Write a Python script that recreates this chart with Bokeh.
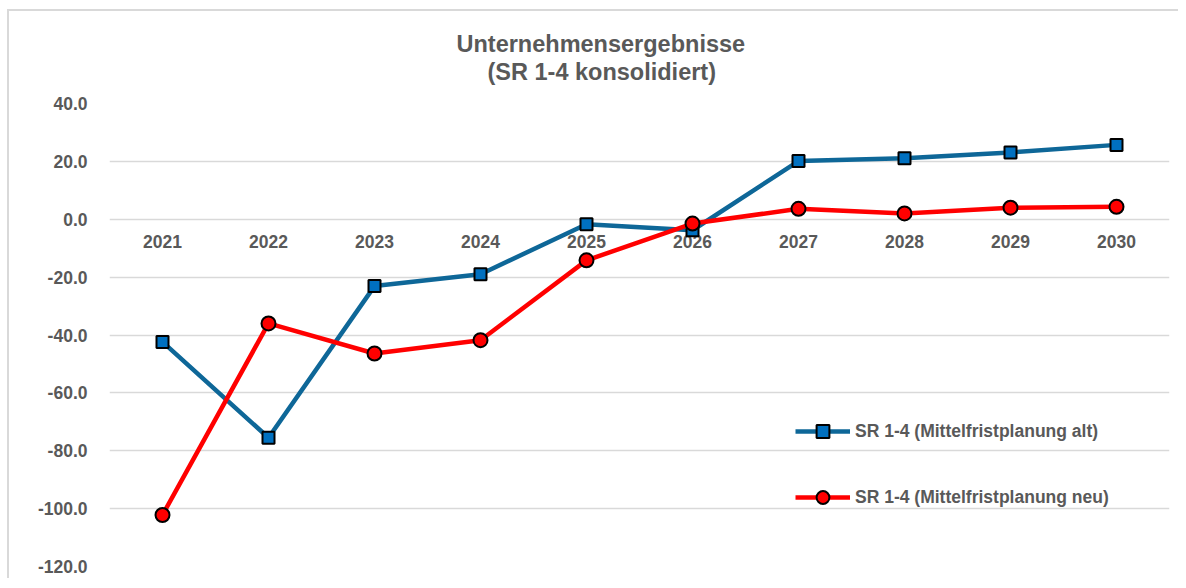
from bokeh.plotting import figure
from bokeh.models import (FactorRange, Range1d, FixedTicker, Legend, LegendItem,
                          CustomJSTickFormatter, Title)
from bokeh.core.properties import value
from bokeh.embed import file_html
from bokeh.resources import INLINE

years = ["2021", "2022", "2023", "2024", "2025", "2026", "2027", "2028", "2029", "2030"]
alt = [-42.4, -75.5, -23.1, -19.0, -1.7, -3.8, 20.1, 21.1, 23.1, 25.7]
neu = [-102.2, -36.0, -46.4, -41.8, -14.2, -1.5, 3.6, 2.0, 4.0, 4.3]
y_ticks = [-120, -100, -80, -60, -40, -20, 0, 20, 40]
label_alt = "SR 1-4 (Mittelfristplanung alt)"
label_neu = "SR 1-4 (Mittelfristplanung neu)"
title_1 = "Unternehmensergebnisse"
title_2 = "(SR 1-4 konsolidiert)"

FONT = "Liberation Sans"
GRAY = "#595959"
BLUE_LINE = "#0E6798"
BLUE_FILL = "#0070C0"
RED = "#FF0000"

p = figure(width=1178, height=578, output_backend="svg", toolbar_location=None,
           x_range=FactorRange(*years, range_padding=0),
           y_range=Range1d(-120, 40),
           min_border_left=109, min_border_right=9, min_border_top=103, min_border_bottom=12)
p.outline_line_color = None
p.border_fill_color = None
p.background_fill_color = "white"
# chart-area frame: left and top edges (the rest lies outside the picture)
p.styles = {
    "overflow": "hidden",
    "vertical-align": "top",
    "background-color": "white",
    "background-image": "linear-gradient(#D9D9D9, #D9D9D9), linear-gradient(#D9D9D9, #D9D9D9)",
    "background-size": "2px 100%, 100% 2px",
    "background-position": "7px 10px, 7px 9px",
    "background-repeat": "no-repeat",
}

tstyle = dict(align="left", text_font=FONT, text_font_size="23.5px",
              text_font_style="bold", text_color=GRAY)
p.title = Title(text=title_1, offset=347, standoff=0, **tstyle)
p.add_layout(Title(text=" ", standoff=16, text_font_size="1px", text_color=GRAY), "above")
p.add_layout(Title(text=title_2, offset=378, standoff=0, **tstyle), "above")

p.xaxis.visible = False
p.xgrid.visible = False
p.ygrid.grid_line_color = "#D9D9D9"
p.ygrid.grid_line_width = 1.5
p.yaxis.ticker = FixedTicker(ticks=y_ticks)
p.yaxis.formatter = CustomJSTickFormatter(code="return tick.toFixed(1);")
p.yaxis.axis_line_color = None
p.yaxis.major_tick_line_color = None
p.yaxis.minor_tick_line_color = None
p.yaxis.major_label_standoff = 16
p.yaxis.major_label_text_font = FONT
p.yaxis.major_label_text_font_size = "17.5px"
p.yaxis.major_label_text_font_style = "bold"
p.yaxis.major_label_text_color = GRAY

p.text(x=years, y=[0] * len(years), text=years, y_offset=22,
       text_font=value(FONT), text_font_size="17.5px", text_font_style="bold",
       text_color=GRAY, text_align="center", text_baseline="middle")

l1 = p.line(years, alt, line_color=BLUE_LINE, line_width=4.5)
s1 = p.scatter(years, alt, marker="square", size=12, fill_color=BLUE_FILL,
               line_color="black", line_width=2)
l2 = p.line(years, neu, line_color=RED, line_width=4.5)
s2 = p.scatter(years, neu, marker="circle", size=14, fill_color=RED,
               line_color="black", line_width=2)

legend = Legend(items=[LegendItem(label=label_alt, renderers=[l1, s1]),
                       LegendItem(label=label_neu, renderers=[l2, s2])],
                location=(686, 53), orientation="vertical",
                glyph_width=55, glyph_height=32, label_height=32, spacing=34,
                label_standoff=5, padding=0, margin=0,
                border_line_color=None, background_fill_alpha=0,
                label_text_font=FONT, label_text_font_size="17.5px",
                label_text_font_style="bold", label_text_color=GRAY)
p.add_layout(legend, "center")

open("out.html", "w").write(file_html(p, INLINE))
